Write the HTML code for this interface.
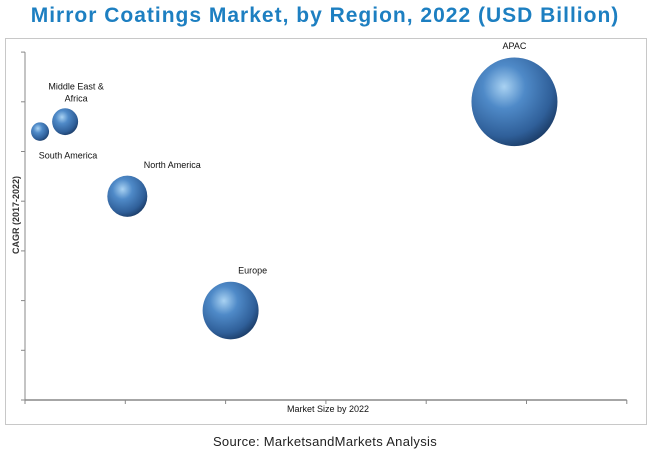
<!DOCTYPE html>
<html><head><meta charset="utf-8"><style>
body{margin:0;background:#fff;width:650px;height:457px;overflow:hidden;font-family:"Liberation Sans",sans-serif}
</style></head><body>
<svg width="650" height="457">
<defs>
<radialGradient id="g" cx="0.38" cy="0.33" r="0.7">
<stop offset="0" stop-color="#a9d2f2"/><stop offset="0.35" stop-color="#4f8ac8"/><stop offset="0.8" stop-color="#2f5f99"/><stop offset="1" stop-color="#1d3f6b"/>
</radialGradient>
</defs>
<text x="325" y="22" text-anchor="middle" font-size="21" letter-spacing="1" font-weight="bold" fill="#1d7fc1">Mirror Coatings Market, by Region, 2022 (USD Billion)</text>
<rect x="5.5" y="38.5" width="641" height="386" fill="none" stroke="#c8c8c8"/>
<g id="axes"></g>
<g id="bubbles"></g>
<text x="328" y="412" text-anchor="middle" font-size="9" fill="#111">Market Size by 2022</text>
<text transform="translate(19,215) rotate(-90)" text-anchor="middle" font-size="9" font-weight="bold" fill="#333">CAGR (2017-2022)</text>
<text x="325" y="446" text-anchor="middle" font-size="13" letter-spacing="0.3" fill="#222">Source: MarketsandMarkets Analysis</text>
</svg>
<script>
const regions=["South America","Middle East & Africa","North America","Europe","APAC"];
const marketSize=[0.15,0.4,1.02,2.05,4.88];
const cagr=[5.4,5.6,4.1,1.8,6.0];
const bubbleSize=[9,13,20,28,43];
const xTicks=[0,1,2,3,4,5,6];
const yTicks=[0,1,2,3,4,5,6,7];
const NS="http://www.w3.org/2000/svg";
const X=v=>25+v*100.3, Y=v=>400-v*49.7;
const ax=document.getElementById('axes'), bg=document.getElementById('bubbles');
function mk(tag,at,parent){const e=document.createElementNS(NS,tag);for(const k in at)e.setAttribute(k,at[k]);parent.appendChild(e);return e;}
let l=mk('line',{x1:X(0),y1:Y(0),x2:X(6),y2:Y(0),stroke:'#888','stroke-width':1.5},ax);


l=mk('line',{x1:X(0),y1:Y(7),x2:X(0),y2:Y(0),stroke:'#888','stroke-width':1},ax);


xTicks.forEach(t=>{const e=mk('line',{x1:X(t),y1:Y(0),x2:X(t),y2:Y(0)+4,stroke:'#888'},ax);

});
yTicks.forEach(t=>{const e=mk('line',{x1:X(0)-4,y1:Y(t),x2:X(0),y2:Y(t),stroke:'#888'},ax);

});
const labelOff=[[28,27],[11,-32],[45,-28],[22,-37],[0,-53]];
regions.forEach((r,i)=>{
const cx=X(marketSize[i]),cy=Y(cagr[i]),rr=bubbleSize[i];
const c=mk('ellipse',{cx:cx,cy:cy,rx:rr,ry:rr*1.03,fill:'url(#g)'},bg);


const t=mk('text',{x:cx+labelOff[i][0],y:cy+labelOff[i][1],'text-anchor':'middle','font-size':9,fill:'#111'},bg);


if(r==="Middle East & Africa"){const a=mk('tspan',{x:cx+labelOff[i][0]},t);a.textContent="Middle East &";const b=mk('tspan',{x:cx+labelOff[i][0],dy:12},t);b.textContent="Africa";}
else t.textContent=r;
});
</script>
</body></html>
